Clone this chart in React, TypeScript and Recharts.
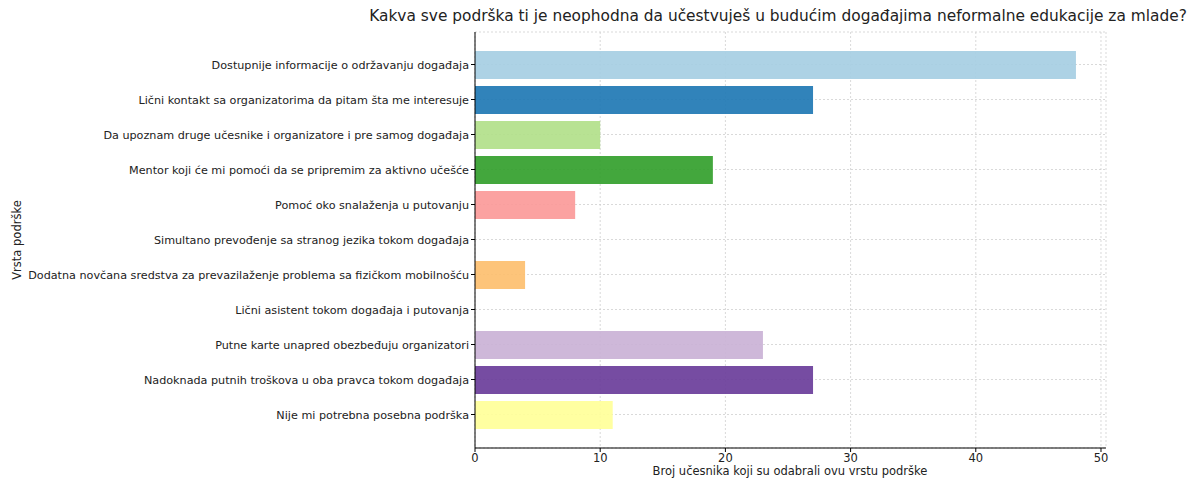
import { Bar, BarChart, CartesianGrid, Cell, XAxis, YAxis } from "recharts";

const categories = [
  "Dostupnije informacije o održavanju događaja",
  "Lični kontakt sa organizatorima da pitam šta me interesuje",
  "Da upoznam druge učesnike i organizatore i pre samog događaja",
  "Mentor koji će mi pomoći da se pripremim za aktivno učešće",
  "Pomoć oko snalaženja u putovanju",
  "Simultano prevođenje sa stranog jezika tokom događaja",
  "Dodatna novčana sredstva za prevazilaženje problema sa fizičkom mobilnošću",
  "Lični asistent tokom događaja i putovanja",
  "Putne karte unapred obezbeđuju organizatori",
  "Nadoknada putnih troškova u oba pravca tokom događaja",
  "Nije mi potrebna posebna podrška",
];
const counts = [48, 27, 10, 19, 8, 0, 4, 0, 23, 27, 11];
const barColors = [
  "#a6cee3", "#1f78b4", "#b2df8a", "#33a02c", "#fb9a99", "#e31a1c",
  "#fdbf6f", "#ff7f00", "#cab2d6", "#6a3d9a", "#ffff99",
];
const xTicks = [0, 10, 20, 30, 40, 50];

const data = categories.map((name, i) => ({ name, value: counts[i] }));
const font = "'DejaVu Sans', sans-serif";

function CategoryTick(props: any) {
  const { x, y, payload } = props;
  return (
    <text x={x} y={y} dy={4} textAnchor="end" fill="#222" fontSize={11.2} fontFamily={font}>
      {payload.value}
    </text>
  );
}

export default function App() {
  return (
    <div style={{ position: "absolute", left: 0, top: 0, width: 1199, height: 483, background: "#fff", fontFamily: font }}>
      <div style={{ position: "absolute", left: 278, width: 1000, top: 7, textAlign: "center", fontSize: 15.4, color: "#222", whiteSpace: "nowrap" }}>
        Kakva sve podrška ti je neophodna da učestvuješ u budućim događajima neformalne edukacije za mlade?
      </div>
      <BarChart
        width={1199}
        height={483}
        data={data}
        layout="vertical"
        margin={{ top: 32, right: 93, bottom: 0, left: 0 }}
      >
        <CartesianGrid stroke="#d0d0d0" strokeDasharray="2 2" strokeOpacity={0.8} />
        <XAxis
          type="number"
          domain={[0, 50.4]}
          ticks={xTicks}
          height={35}
          tickSize={4}
          axisLine={{ stroke: "#000" }}
          tickLine={{ stroke: "#000" }}
          tick={{ fill: "#222", fontSize: 11.5, fontFamily: font }}
        />
        <YAxis
          type="category"
          dataKey="name"
          width={475}
          tickSize={4}
          padding={{ top: 15, bottom: 16 }}
          interval={0}
          axisLine={{ stroke: "#000" }}
          tickLine={{ stroke: "#000" }}
          tick={<CategoryTick />}
        />
        <Bar dataKey="value" barSize={28} isAnimationActive={false}>
          {data.map((_, i) => (
            <Cell key={i} fill={barColors[i]} fillOpacity={0.92} />
          ))}
        </Bar>
      </BarChart>
      <div style={{ position: "absolute", left: 490, width: 600, top: 464, textAlign: "center", fontSize: 11.5, color: "#222" }}>
        Broj učesnika koji su odabrali ovu vrstu podrške
      </div>
      <div
        style={{
          position: "absolute",
          left: 17,
          top: 240,
          transform: "translate(-50%, -50%) rotate(-90deg)",
          whiteSpace: "nowrap",
          fontSize: 11.5,
          color: "#222",
        }}
      >
        Vrsta podrške
      </div>
    </div>
  );
}
